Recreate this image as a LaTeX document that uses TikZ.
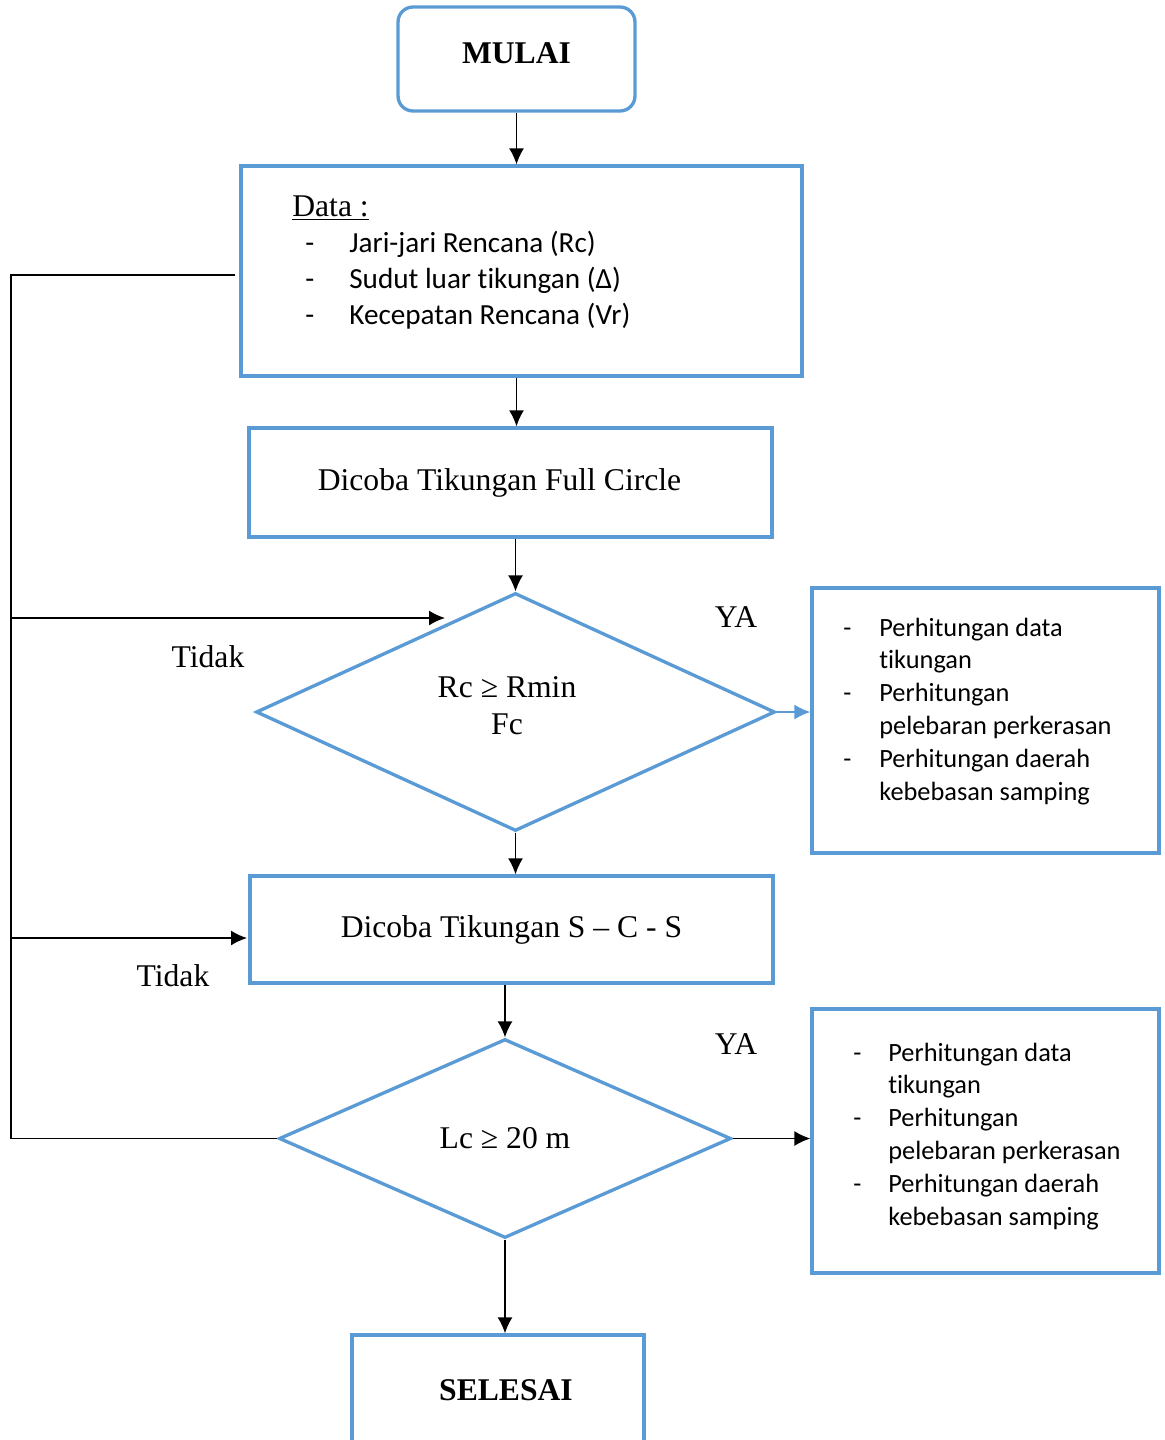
\documentclass[tikz,border=0pt]{standalone}
\usepackage{fontspec}
\setmainfont{Liberation Serif}
\newfontfamily\calibri[Ligatures=NoCommon]{Carlito}
\usetikzlibrary{shapes.geometric,arrows.meta}
\definecolor{flowblue}{RGB}{91,155,213}

\begin{document}
\begin{tikzpicture}[x=0.02cm, y=-0.02cm,
    font=\fontsize{18}{21}\selectfont,
    box/.style={draw=flowblue, line width=1.9pt, rectangle, inner sep=0pt},
    decision/.style={draw=flowblue, line width=1.9pt, diamond, inner sep=0pt, align=center},
    line/.style={black, line width=0.9pt},
    arrow/.style={line, -{Latex[length=0.32cm,width=0.3cm]}},
    listtext/.style={font=\calibri\fontsize{15}{18.7}\selectfont, anchor=base west, inner sep=0pt}]
    \useasboundingbox (0,0) rectangle (1164,1440);
    % main column
    \node[box, rounded corners=0.3cm, minimum width=4.74cm, minimum height=2.08cm, text depth=0.24cm, font=\fontsize{18}{21}\selectfont\bfseries] (mulai) at (516.5,59) {MULAI};
    \node[box, minimum width=11.22cm, minimum height=4.2cm] (data) at (521.5,271) {};
    \node[anchor=base west, inner sep=0pt, font=\calibri\fontsize{16.6}{20.5}\selectfont] (datatext) at (292,216) {%
        \begin{tabular}[t]{@{}p{1.14cm}@{}l@{}}
        \multicolumn{2}{@{}l@{}}{\rmfamily\fontsize{18}{21}\selectfont\underline{Data :}}\\
        \hspace*{0.26cm}- & Jari-jari Rencana (Rc)\\
        \hspace*{0.26cm}- & Sudut luar tikungan (Δ)\\
        \hspace*{0.26cm}- & Kecepatan Rencana (Vr)
        \end{tabular}};
    \node[box, minimum width=10.46cm, minimum height=2.18cm] (full) at (510.5,482.5) {Dicoba Tikungan Full Circle\hspace*{0.44cm}};
    \node[decision, minimum width=10.38cm, minimum height=4.76cm] (dec1) at (515.5,712) {};
    \node[align=center, inner sep=0pt] (dec1text) at (507,705.5) {Rc ≥ Rmin\\Fc};
    \node[box, minimum width=10.46cm, minimum height=2.14cm] (scs) at (511.5,929.5) {Dicoba Tikungan S -- C - S};
    \node[decision, minimum width=9.04cm, minimum height=3.98cm] (dec2) at (505,1138.5) {Lc ≥ 20 m};
    \node[box, minimum width=5.84cm, minimum height=2.2cm, font=\fontsize{18}{21}\selectfont\bfseries] (selesai) at (498,1390) {\hspace*{0.32cm}SELESAI};
    % result boxes
    \node[box, minimum width=6.94cm, minimum height=5.3cm] (hasil1) at (985.5,720.5) {};
    \node[listtext] (hasil1text) at (843,636) {%
        \begin{tabular}[t]{@{}p{0.72cm}@{}l@{}}
        - & Perhitungan data\\
          & tikungan\\
        - & Perhitungan\\
          & pelebaran perkerasan\\
        - & Perhitungan daerah\\
          & kebebasan samping
        \end{tabular}};
    \node[box, minimum width=6.94cm, minimum height=5.28cm] (hasil2) at (985.5,1141) {};
    \node[listtext] (hasil2text) at (853,1061) {%
        \begin{tabular}[t]{@{}p{0.7cm}@{}l@{}}
        - & Perhitungan data\\
          & tikungan\\
        - & Perhitungan\\
          & pelebaran perkerasan\\
        - & Perhitungan daerah\\
          & kebebasan samping
        \end{tabular}};
    % labels
    \node (ya1) at (736,617) {YA};
    \node (ya2) at (736,1044) {YA};
    \node (tidak1) at (208,657) {Tidak};
    \node (tidak2) at (173,976) {Tidak};
    % connectors
    \draw[arrow] (mulai.south) -- (mulai.south |- data.north);
    \draw[arrow] (mulai.south |- data.south) -- (mulai.south |- full.north);
    \draw[arrow] (dec1.north |- full.south) -- (dec1.north);
    \draw[arrow] (dec1.south) -- (dec1.south |- scs.north);
    \draw[arrow] (dec2.north |- scs.south) -- (dec2.north);
    \draw[arrow] (dec2.south) -- (dec2.south |- selesai.north);
    \draw[arrow, draw=flowblue, fill=flowblue] (dec1.east) -- (hasil1.west |- dec1.east);
    \draw[arrow] (dec2.east) -- (hasil2.west |- dec2.east);
    % loop back
    \coordinate (dataout) at (235,275);
    \coordinate (kiri) at (11,275);
    \coordinate (back1) at (445,618);
    \coordinate (back2) at (247,938);
    \draw[line] (dataout) -- (kiri) |- (dec2.west);
    \draw[arrow] (back1 -| kiri) -- (back1);
    \draw[arrow] (back2 -| kiri) -- (back2);
\end{tikzpicture}
\end{document}
